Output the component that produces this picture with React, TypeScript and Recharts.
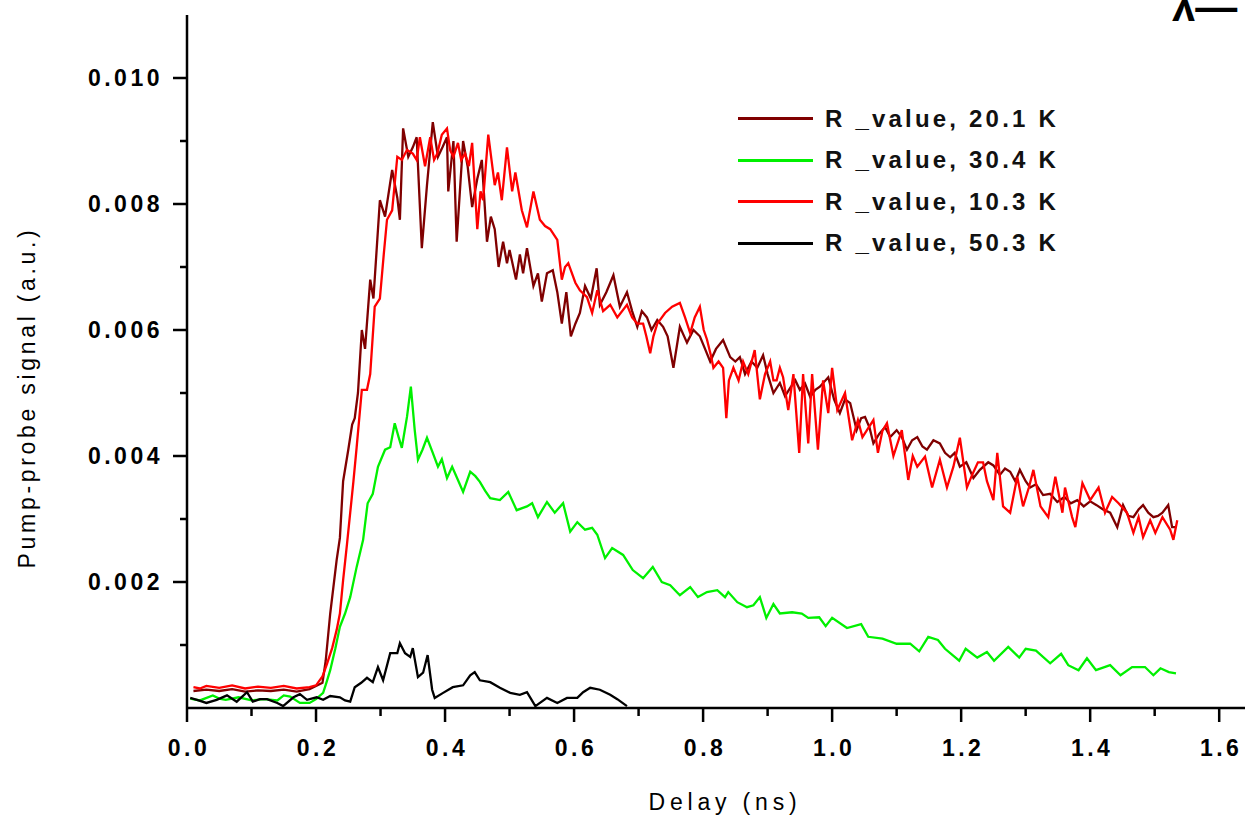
import React from 'react';
import { LineChart, Line, XAxis, YAxis } from 'recharts';

// delay (ns), pump-probe signal (a.u.)
const r20: [number, number][] = [
  [0.01, 0.00027], [0.03, 0.00029], [0.05, 0.00027], [0.07, 0.0003], [0.09, 0.00026], [0.11, 0.00028],
  [0.13, 0.00027], [0.15, 0.00029], [0.17, 0.00026], [0.19, 0.0003], [0.2, 0.00035], [0.21, 0.0004],
  [0.215, 0.00075], [0.222, 0.0015], [0.232, 0.00235], [0.237, 0.0027], [0.242, 0.0036], [0.25, 0.0041],
  [0.256, 0.0045], [0.26, 0.0046], [0.265, 0.005], [0.271, 0.006], [0.276, 0.0057], [0.284, 0.0068],
  [0.289, 0.0065], [0.299, 0.00806], [0.307, 0.0078], [0.318, 0.00854], [0.326, 0.0081], [0.33, 0.00775],
  [0.335, 0.0092], [0.343, 0.00875], [0.35, 0.0089], [0.356, 0.00906], [0.364, 0.0073], [0.372, 0.0083],
  [0.381, 0.0093], [0.389, 0.00875], [0.396, 0.0089], [0.403, 0.00906], [0.405, 0.0082], [0.413, 0.009],
  [0.418, 0.0074], [0.428, 0.009], [0.435, 0.0086], [0.442, 0.00795], [0.45, 0.0084], [0.457, 0.0087],
  [0.465, 0.0074], [0.471, 0.0078], [0.477, 0.0076], [0.483, 0.007], [0.49, 0.0074], [0.496, 0.00706],
  [0.5, 0.00727], [0.51, 0.0068], [0.516, 0.0072], [0.521, 0.0069], [0.527, 0.0073], [0.537, 0.0067],
  [0.544, 0.0069], [0.55, 0.00645], [0.558, 0.0069], [0.567, 0.00695], [0.574, 0.0066], [0.581, 0.0061],
  [0.588, 0.0066], [0.595, 0.0059], [0.602, 0.0061], [0.609, 0.00627], [0.617, 0.0067], [0.626, 0.0065],
  [0.635, 0.00698], [0.64, 0.0064], [0.65, 0.0066], [0.661, 0.00687], [0.671, 0.00637], [0.682, 0.0066],
  [0.69, 0.0063], [0.698, 0.00605], [0.705, 0.0063], [0.713, 0.0062], [0.72, 0.006], [0.729, 0.00616],
  [0.738, 0.00605], [0.745, 0.0059], [0.754, 0.0054], [0.764, 0.00605], [0.775, 0.0058], [0.785, 0.006],
  [0.795, 0.0059], [0.803, 0.0057], [0.811, 0.0055], [0.82, 0.0057], [0.831, 0.00584], [0.842, 0.00557],
  [0.85, 0.0055], [0.857, 0.00557], [0.865, 0.0053], [0.875, 0.0055], [0.884, 0.0054], [0.893, 0.0056],
  [0.9, 0.0053], [0.909, 0.005], [0.919, 0.00516], [0.927, 0.00495], [0.935, 0.00508], [0.943, 0.0052],
  [0.95, 0.00505], [0.958, 0.00515], [0.966, 0.00494], [0.974, 0.00505], [0.981, 0.0051], [0.994, 0.00525],
  [1.003, 0.0049], [1.012, 0.00468], [1.02, 0.0049], [1.028, 0.00484], [1.038, 0.00441], [1.045, 0.0046],
  [1.051, 0.00462], [1.058, 0.00445], [1.064, 0.0042], [1.073, 0.00435], [1.082, 0.00446], [1.09, 0.0043],
  [1.1, 0.00441], [1.108, 0.0043], [1.116, 0.0041], [1.124, 0.00425], [1.132, 0.0043], [1.14, 0.00415],
  [1.147, 0.0041], [1.157, 0.00425], [1.167, 0.0042], [1.175, 0.00405], [1.183, 0.00398], [1.19, 0.00405],
  [1.198, 0.00383], [1.208, 0.0039], [1.219, 0.00365], [1.229, 0.00378], [1.242, 0.0039], [1.25, 0.00385],
  [1.26, 0.0037], [1.268, 0.0038], [1.276, 0.00375], [1.284, 0.0036], [1.291, 0.00378], [1.3, 0.0036],
  [1.307, 0.0035], [1.316, 0.00355], [1.327, 0.00338], [1.338, 0.0034], [1.349, 0.00327], [1.36, 0.00335],
  [1.37, 0.00325], [1.38, 0.0033], [1.39, 0.0032], [1.4, 0.00328], [1.41, 0.00322], [1.42, 0.00315],
  [1.431, 0.0031], [1.442, 0.00287], [1.451, 0.00322], [1.459, 0.00305], [1.467, 0.00303], [1.475, 0.00315],
  [1.482, 0.00322], [1.49, 0.0031], [1.498, 0.00303], [1.505, 0.00305], [1.512, 0.0031], [1.521, 0.00322],
  [1.527, 0.00287], [1.532, 0.00287],
];

const r30: [number, number][] = [
  [0.005, 0.00015], [0.02, 0.00012], [0.04, 0.0002], [0.05, 0.00015], [0.06, 0.00013], [0.08, 0.00017],
  [0.1, 0.00012], [0.12, 0.00014], [0.14, 0.00012], [0.15, 0.0002], [0.16, 0.00018], [0.175, 0.00008],
  [0.19, 0.00008], [0.2, 0.00014], [0.211, 0.00024], [0.216, 0.0004], [0.222, 0.0006], [0.23, 0.00095],
  [0.237, 0.00129], [0.245, 0.0015], [0.253, 0.00176], [0.263, 0.00224], [0.273, 0.00267], [0.28, 0.00325],
  [0.288, 0.0034], [0.296, 0.00383], [0.307, 0.0041], [0.315, 0.00414], [0.322, 0.00452], [0.328, 0.0043],
  [0.333, 0.00413], [0.341, 0.00462], [0.347, 0.0051], [0.353, 0.00441], [0.358, 0.00394], [0.365, 0.0041],
  [0.372, 0.00429], [0.381, 0.00405], [0.389, 0.00383], [0.395, 0.00395], [0.403, 0.00365], [0.411, 0.00383],
  [0.42, 0.00362], [0.428, 0.00343], [0.439, 0.00375], [0.447, 0.00368], [0.454, 0.00359], [0.462, 0.00345],
  [0.47, 0.00333], [0.485, 0.0033], [0.498, 0.00343], [0.511, 0.00314], [0.527, 0.0032], [0.535, 0.00325],
  [0.544, 0.00303], [0.558, 0.00327], [0.57, 0.0031], [0.583, 0.00325], [0.594, 0.0028], [0.605, 0.00295],
  [0.617, 0.00283], [0.628, 0.00286], [0.636, 0.00275], [0.648, 0.00238], [0.659, 0.00254], [0.676, 0.00243],
  [0.691, 0.00219], [0.707, 0.00206], [0.722, 0.00224], [0.736, 0.002], [0.749, 0.00195], [0.764, 0.00179],
  [0.78, 0.00192], [0.792, 0.00176], [0.806, 0.00184], [0.822, 0.00187], [0.834, 0.00176], [0.839, 0.00184],
  [0.853, 0.00168], [0.868, 0.0016], [0.878, 0.00163], [0.888, 0.00176], [0.898, 0.00143], [0.909, 0.00165],
  [0.919, 0.0015], [0.938, 0.00152], [0.953, 0.0015], [0.963, 0.00143], [0.98, 0.00144], [0.99, 0.0013],
  [1.0, 0.00143], [1.023, 0.00127], [1.045, 0.00133], [1.056, 0.00113], [1.078, 0.0011], [1.1, 0.00102],
  [1.121, 0.00102], [1.135, 0.0009], [1.149, 0.00113], [1.164, 0.00108], [1.175, 0.00094], [1.197, 0.00075],
  [1.207, 0.00094], [1.225, 0.0008], [1.24, 0.00089], [1.251, 0.00075], [1.273, 0.00097], [1.29, 0.0008],
  [1.3, 0.00094], [1.316, 0.00091], [1.338, 0.00071], [1.355, 0.00086], [1.366, 0.00068], [1.382, 0.0006],
  [1.395, 0.00079], [1.409, 0.0006], [1.431, 0.00068], [1.447, 0.00052], [1.465, 0.00065], [1.485, 0.00065],
  [1.498, 0.00052], [1.509, 0.00063], [1.522, 0.00057], [1.533, 0.00055],
];

const r10: [number, number][] = [
  [0.01, 0.00033], [0.02, 0.00031], [0.03, 0.00035], [0.05, 0.00032], [0.07, 0.00036], [0.09, 0.00031],
  [0.11, 0.00034], [0.13, 0.00032], [0.15, 0.00035], [0.17, 0.00031], [0.19, 0.00033], [0.2, 0.00036],
  [0.21, 0.0005], [0.217, 0.0007], [0.225, 0.00095], [0.232, 0.00124], [0.237, 0.0015], [0.242, 0.00203],
  [0.248, 0.0026], [0.253, 0.0031], [0.258, 0.0036], [0.263, 0.00414], [0.271, 0.00505], [0.279, 0.00505],
  [0.284, 0.0053], [0.291, 0.00637], [0.299, 0.0065], [0.305, 0.0072], [0.31, 0.00775], [0.318, 0.0079],
  [0.326, 0.00875], [0.333, 0.0087], [0.341, 0.00886], [0.35, 0.0088], [0.356, 0.0087], [0.361, 0.00906],
  [0.369, 0.0086], [0.377, 0.00906], [0.383, 0.0087], [0.388, 0.0088], [0.395, 0.0091], [0.403, 0.0092],
  [0.408, 0.00885], [0.413, 0.00875], [0.42, 0.00897], [0.425, 0.0087], [0.431, 0.0088], [0.437, 0.0086],
  [0.442, 0.00897], [0.45, 0.0076], [0.455, 0.0082], [0.459, 0.00806], [0.467, 0.0091], [0.477, 0.0083],
  [0.482, 0.0085], [0.488, 0.00806], [0.496, 0.0089], [0.504, 0.0082], [0.509, 0.0085], [0.519, 0.0079],
  [0.527, 0.00763], [0.537, 0.0082], [0.547, 0.00775], [0.555, 0.00765], [0.563, 0.0076], [0.574, 0.00743],
  [0.581, 0.0068], [0.586, 0.007], [0.591, 0.00706], [0.602, 0.00675], [0.609, 0.00663], [0.62, 0.00652],
  [0.628, 0.00627], [0.636, 0.00663], [0.645, 0.0063], [0.656, 0.0064], [0.667, 0.0062], [0.682, 0.0064],
  [0.69, 0.0062], [0.698, 0.0061], [0.707, 0.0061], [0.712, 0.0059], [0.718, 0.00563], [0.723, 0.0059],
  [0.729, 0.0061], [0.741, 0.00627], [0.752, 0.00637], [0.764, 0.00643], [0.772, 0.0062], [0.78, 0.00595],
  [0.787, 0.0062], [0.795, 0.00637], [0.801, 0.006], [0.806, 0.00585], [0.812, 0.0056], [0.816, 0.0054],
  [0.824, 0.0055], [0.831, 0.0054], [0.836, 0.0046], [0.84, 0.0052], [0.847, 0.0054], [0.855, 0.0052],
  [0.862, 0.0055], [0.87, 0.0053], [0.88, 0.00568], [0.888, 0.0049], [0.896, 0.0053], [0.904, 0.0055],
  [0.909, 0.0052], [0.914, 0.0052], [0.919, 0.0054], [0.924, 0.00525], [0.932, 0.00473], [0.94, 0.0053],
  [0.949, 0.00405], [0.955, 0.0053], [0.963, 0.0042], [0.969, 0.0053], [0.978, 0.0041], [0.986, 0.0052],
  [0.994, 0.00468], [1.0, 0.0054], [1.008, 0.00473], [1.02, 0.005], [1.031, 0.00425], [1.04, 0.00457],
  [1.047, 0.0043], [1.054, 0.00441], [1.064, 0.00457], [1.071, 0.00405], [1.078, 0.0044], [1.085, 0.00452],
  [1.095, 0.004], [1.108, 0.00441], [1.118, 0.00362], [1.125, 0.004], [1.132, 0.00383], [1.144, 0.00399],
  [1.155, 0.0035], [1.167, 0.00394], [1.178, 0.0035], [1.188, 0.00383], [1.198, 0.00429], [1.209, 0.0035],
  [1.217, 0.0037], [1.226, 0.0039], [1.234, 0.0039], [1.24, 0.0036], [1.25, 0.0033], [1.256, 0.00405],
  [1.265, 0.0032], [1.276, 0.0031], [1.287, 0.00367], [1.296, 0.0032], [1.305, 0.0035], [1.312, 0.00378],
  [1.323, 0.0032], [1.335, 0.00303], [1.346, 0.00367], [1.357, 0.0031], [1.361, 0.0035], [1.372, 0.00303],
  [1.377, 0.00287], [1.388, 0.00357], [1.4, 0.0033], [1.413, 0.0035], [1.423, 0.0031], [1.434, 0.00335],
  [1.444, 0.00325], [1.457, 0.0031], [1.467, 0.00278], [1.475, 0.00303], [1.482, 0.00271], [1.493, 0.00298],
  [1.501, 0.00278], [1.512, 0.00303], [1.524, 0.00283], [1.529, 0.00267], [1.535, 0.00298],
];

const r50: [number, number][] = [
  [0.005, 0.00016], [0.018, 0.00012], [0.03, 0.00008], [0.046, 0.00013], [0.062, 0.0002], [0.077, 0.0001],
  [0.093, 0.00025], [0.102, 0.0001], [0.113, 0.00014], [0.124, 0.00014], [0.14, 0.00008], [0.149, 0.00003],
  [0.165, 0.00017], [0.175, 0.00022], [0.186, 0.00013], [0.201, 0.00017], [0.211, 0.00013], [0.222, 0.00019],
  [0.237, 0.00017], [0.245, 0.00012], [0.253, 0.0001], [0.26, 0.00033], [0.27, 0.0004], [0.279, 0.00048],
  [0.288, 0.00041], [0.296, 0.00065], [0.304, 0.00044], [0.315, 0.00087], [0.326, 0.00087], [0.33, 0.00103],
  [0.338, 0.00087], [0.346, 0.00081], [0.35, 0.00095], [0.358, 0.00049], [0.366, 0.00056], [0.373, 0.00084],
  [0.38, 0.00029], [0.384, 0.00016], [0.397, 0.00024], [0.412, 0.00033], [0.428, 0.00036], [0.439, 0.00052],
  [0.446, 0.00057], [0.454, 0.00044], [0.47, 0.00041], [0.485, 0.00032], [0.501, 0.00024], [0.516, 0.00021],
  [0.527, 0.00025], [0.54, 0.00003], [0.558, 0.00016], [0.574, 0.00008], [0.589, 0.00016], [0.605, 0.00016],
  [0.614, 0.00025], [0.625, 0.00032], [0.64, 0.00029], [0.656, 0.00021], [0.667, 0.00014], [0.682, 0.00003],
];

const xTicks = [0, 0.1, 0.2, 0.3, 0.4, 0.5, 0.6, 0.7, 0.8, 0.9, 1.0, 1.1, 1.2, 1.3, 1.4, 1.5, 1.6];
const xLabeled = [0, 0.2, 0.4, 0.6, 0.8, 1.0, 1.2, 1.4, 1.6];
const yTicks = [0.001, 0.002, 0.003, 0.004, 0.005, 0.006, 0.007, 0.008, 0.009, 0.01];
const yLabeled = [0.002, 0.004, 0.006, 0.008, 0.01];

const series = [
  { name: 'R _value, 20.1 K', color: '#800000', points: r20 },
  { name: 'R _value, 30.4 K', color: '#00f000', points: r30 },
  { name: 'R _value, 10.3 K', color: '#ff0000', points: r10 },
  { name: 'R _value, 50.3 K', color: '#000000', points: r50 },
];

const FONT = '"Liberation Sans", Arial, sans-serif';

const XTick = (props: any) => {
  const { x, y, payload } = props;
  const major = xLabeled.includes(payload.value);
  return (
    <g>
      <line x1={x} x2={x} y1={y} y2={y + (major ? 14 : 8)} stroke="#000" strokeWidth={2.5} />
      {major && (
        <text x={x + 2} y={y + 40} textAnchor="middle" dominantBaseline="central"
          fontFamily={FONT} fontWeight="bold" fontSize={23} letterSpacing={3.5} fill="#000">
          {payload.value.toFixed(1)}
        </text>
      )}
    </g>
  );
};

const YTick = (props: any) => {
  const { x, y, payload } = props;
  const major = yLabeled.includes(payload.value);
  return (
    <g>
      <line x1={x} x2={x - (major ? 14 : 7)} y1={y} y2={y} stroke="#000" strokeWidth={2.5} />
      {major && (
        <text x={x - 24} y={y} textAnchor="end" dominantBaseline="central"
          fontFamily={FONT} fontWeight="bold" fontSize={23} letterSpacing={3.5} fill="#000">
          {payload.value.toFixed(3)}
        </text>
      )}
    </g>
  );
};

const XTitle = (props: any) => {
  const { viewBox } = props;
  return (
    <text x={viewBox.x + viewBox.width / 2 + 9} y={viewBox.y + 94} textAnchor="middle" dominantBaseline="central"
      fontFamily={FONT} fontSize={23} letterSpacing={4.8} fill="#000">
      Delay (ns)
    </text>
  );
};

const YTitle = (props: any) => {
  const { viewBox } = props;
  const cx = viewBox.x + 27;
  const cy = viewBox.y + viewBox.height / 2 + 36;
  return (
    <text x={cx} y={cy} transform={`rotate(-90 ${cx} ${cy})`} textAnchor="middle" dominantBaseline="central"
      fontFamily={FONT} fontSize={23} letterSpacing={3.7} fill="#000">
      Pump-probe signal (a.u.)
    </text>
  );
};

export default function App() {
  return (
    <div style={{ position: 'absolute', left: 0, top: 0, width: 1249, height: 816, background: '#fff' }}>
      <LineChart width={1249} height={816} margin={{ top: 15, right: 4, bottom: 0, left: 0 }}>
        <XAxis type="number" dataKey="x" domain={[0, 1.64]} ticks={xTicks} interval={0}
          tick={<XTick />} tickLine={false} tickSize={0} tickMargin={0} height={108}
          axisLine={{ stroke: '#000', strokeWidth: 2.5 }} label={<XTitle />} allowDataOverflow />
        <YAxis type="number" domain={[0, 0.011]} ticks={yTicks} interval={0}
          tick={<YTick />} tickLine={false} tickSize={0} tickMargin={0} width={187}
          axisLine={{ stroke: '#000', strokeWidth: 2.5 }} label={<YTitle />} allowDataOverflow />
        {series.map((s) => (
          <Line key={s.name} data={s.points.map(([x, y]) => ({ x, y }))} dataKey="y" type="linear"
            stroke={s.color} strokeWidth={2.3} dot={false} activeDot={false} isAnimationActive={false} />
        ))}
        <text x={1172} y={21} fontFamily={FONT} fontWeight="bold" fontSize={42} fill="#000">λ—</text>
      </LineChart>
      <div style={{ position: 'absolute', left: 738, top: 98, fontFamily: FONT }}>
        {series.map((s) => (
          <div key={s.name} style={{ display: 'flex', alignItems: 'center', height: 41.5 }}>
            <div style={{ width: 75, height: 3, background: s.color }} />
            <span style={{ marginLeft: 12, fontSize: 24, fontWeight: 'bold', letterSpacing: 3.2, color: '#111' }}>
              {s.name}
            </span>
          </div>
        ))}
      </div>
    </div>
  );
}
